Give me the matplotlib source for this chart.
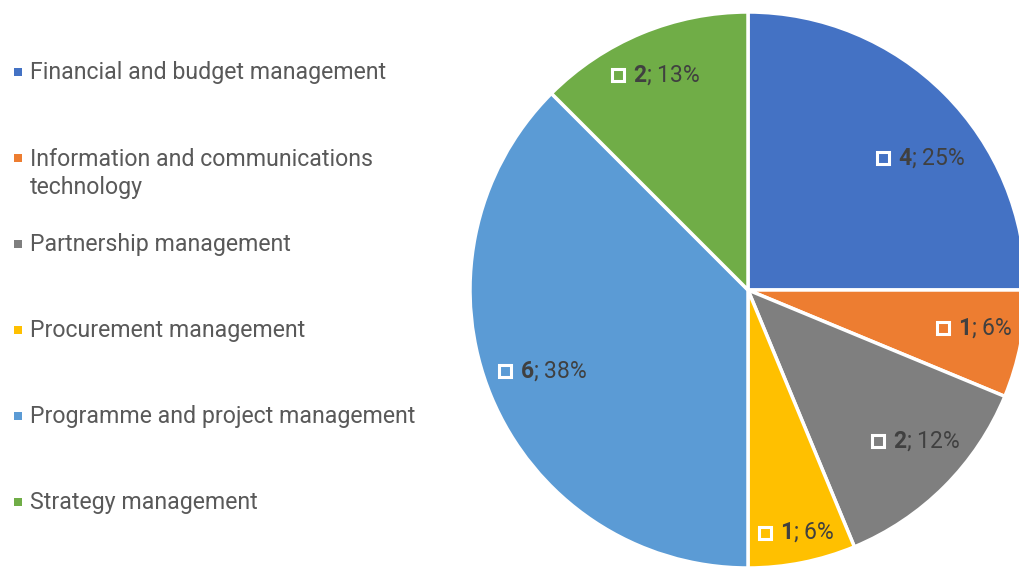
import numpy as np
import matplotlib.pyplot as plt

plt.rcParams['font.family'] = ['Roboto', 'DejaVu Sans']
plt.rcParams['mathtext.fontset'] = 'custom'
plt.rcParams['mathtext.bf'] = 'Roboto:bold'
plt.rcParams['mathtext.rm'] = 'Roboto'

# data
categories = ['Financial and budget management',
              'Information and communications\ntechnology',
              'Partnership management',
              'Procurement management',
              'Programme and project management',
              'Strategy management']
counts = [4, 1, 2, 1, 6, 2]
pct_labels = ['25%', '6%', '12%', '6%', '38%', '13%']
colors = ['#4472C4', '#ED7D31', '#7F7F7F', '#FFC000', '#5B9BD5', '#70AD47']

# label placement tweaks (fraction of radius, angle shift in degrees)
label_r = [0.785, 0.83, 0.815, 0.89, 0.79, 0.84]
label_shift = [-7.8, 1.7, 3.2, 0.1, -0.9, 0.5]

W, H = 1020, 567
fig = plt.figure(figsize=(W / 100, H / 100), dpi=100)
ax = fig.add_axes([0, 0, 1, 1])
ax.set_xlim(0, W)
ax.set_ylim(0, H)
ax.set_aspect('equal')
ax.axis('off')

cx, cy, r = 748, H - 290, 278
wedges, _ = ax.pie(counts, colors=colors, startangle=90, counterclock=False,
                   center=(cx, cy), radius=r,
                   wedgeprops=dict(edgecolor='white', linewidth=2.5))
ax.set_xlim(0, W)
ax.set_ylim(0, H)

# data labels
fig.canvas.draw()
renderer = fig.canvas.get_renderer()
for w, n, p, lr, sh in zip(wedges, counts, pct_labels, label_r, label_shift):
    mid = np.deg2rad((w.theta1 + w.theta2) / 2 + sh)
    px = cx + lr * r * np.cos(mid)
    py = cy + lr * r * np.sin(mid)
    t = ax.text(px + 10, py, r'$\mathbf{%d}$; %s' % (n, p), ha='center', va='center',
                fontsize=16.5, color='#404040')
    bb = t.get_window_extent(renderer)
    ax.plot(px + 10 - bb.width / 2 - 15, py, marker='s', markersize=8,
            markerfacecolor='none', markeredgecolor='white', markeredgewidth=2.2)

# legend
leg_y = [72, 158, 244, 330, 416, 502]
for c, lab, y in zip(colors, categories, leg_y):
    ax.plot(18, H - y, marker='s', markersize=6, color=c, markeredgewidth=0)
    ax.text(30, H - y + 10.5, lab, ha='left', va='top', fontsize=16.7,
            color='#595959', linespacing=1.3)

fig.savefig('out.png', dpi=100)
